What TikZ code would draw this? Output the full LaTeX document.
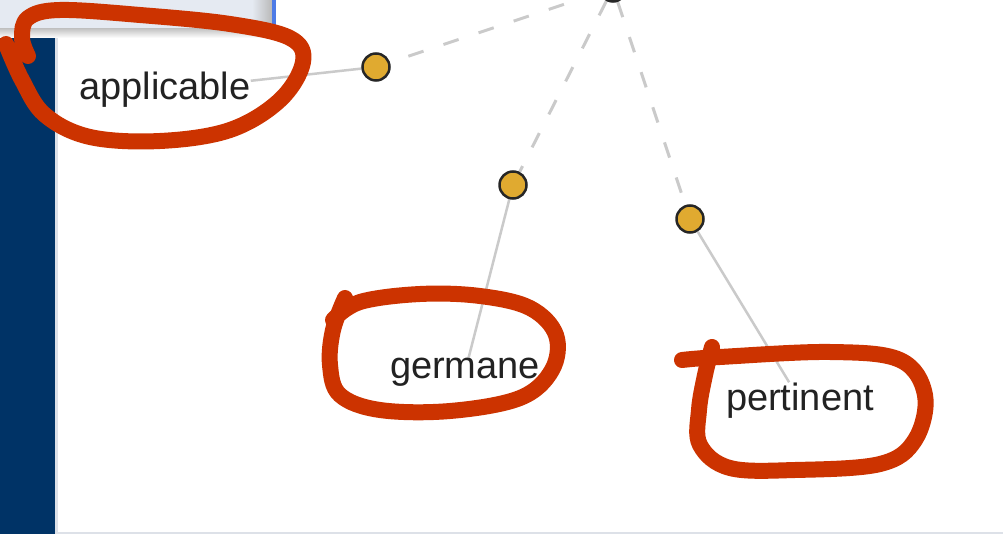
\documentclass[tikz,border=0pt]{standalone}
\usepackage{fontspec}
\setmainfont{Liberation Sans}
\definecolor{gold}{HTML}{E0AA30}
\definecolor{dotline}{HTML}{262626}
\definecolor{txt}{HTML}{222222}
\definecolor{linegray}{HTML}{CACACA}
\definecolor{ringred}{HTML}{CC3300}
\definecolor{navy}{HTML}{003366}
\definecolor{panelbg}{HTML}{E5EAF2}
\definecolor{edgegray}{HTML}{DDE1E8}
\definecolor{bluebar}{HTML}{4D7BE6}
\pgfdeclarelayer{bg}
\pgfsetlayers{bg,main}
\begin{document}
\begin{tikzpicture}[x=1pt,y=-1pt,
  dot/.style={circle,fill=gold,draw=dotline,line width=2.5pt,minimum size=27pt,inner sep=0pt},
  lbl/.style={font=\fontsize{38}{40}\selectfont,text=txt,inner sep=0pt,anchor=base},
  dashline/.style={draw=linegray,line width=3pt,dash pattern=on 16pt off 21pt},
  solidline/.style={draw=linegray,line width=2.5pt},
  ring/.style={draw=ringred,line width=16pt,line cap=round,line join=round}]
\useasboundingbox (0,0) rectangle (1003,534);

% nodes
\node[dot] (top) at (613,-12) {};
\node[dot] (c1) at (376,67) {};
\node[dot] (c2) at (513,185) {};
\node[dot] (c3) at (690,219) {};
\node[lbl] (l1) at (165,100) {applicable};
\node[lbl] (l2) at (465,378) {germane};
\node[lbl] (l3) at (800,410) {pertinent};

\begin{pgfonlayer}{bg}
  % window chrome
  \fill[white] (0,0) rectangle (1003,534);
  \fill[panelbg] (0,0) rectangle (276,31);
  \shade[left color=panelbg,right color=gray!55] (252,0) rectangle (272,31);
  \fill[bluebar] (272,0) rectangle (276,26);
  \shade[top color=gray!45,bottom color=white] (0,29) rectangle (276,38);
  \fill[navy] (0,38) rectangle (55,534);
  \fill[edgegray] (55,38) rectangle (58,534);
  \fill[edgegray] (58,531.5) rectangle (1003,534);
  % connectors
  \draw[dashline] (top) -- (c1);
  \draw[dashline] (top) -- (c2);
  \draw[dashline] (top) -- (c3);
  \draw[solidline] (c1) -- (l1);
  \draw[solidline] (c2) -- (l2);
  \draw[solidline] (c3) -- (l3);
\end{pgfonlayer}

% hand-drawn red rings
\draw[ring] plot[smooth,tension=0.6] coordinates {(6,44) (22,80) (45,115) (90,137) (160,141) (230,130) (280,100) (303,62) (290,38) (230,24) (140,15) (60,10) (28,18) (22,38) (28,56)};
\draw[ring] plot[smooth,tension=0.6] coordinates {(333,320) (360,302) (420,294) (480,296) (530,308) (556,335) (552,370) (520,398) (450,411) (380,410) (340,395) (330,365) (333,330) (345,298)};
\draw[ring] plot[smooth,tension=0.6] coordinates {(682,360) (720,357) (830,352) (900,360) (925,395) (915,440) (880,464) (795,470) (730,468) (700,445) (699,410) (705,375) (712,347)};
\end{tikzpicture}
\end{document}
